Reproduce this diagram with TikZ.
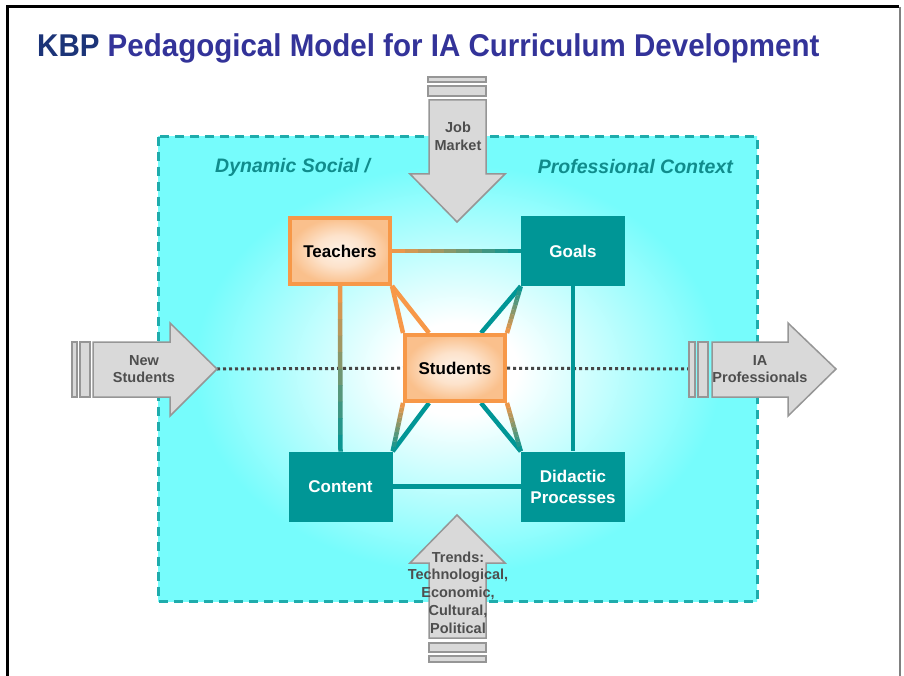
\documentclass[tikz,border=0pt]{standalone}
\usepackage{fontspec}
\setmainfont{Liberation Sans}
\usetikzlibrary{calc}
\definecolor{kbpnavy}{RGB}{28,52,120}
\definecolor{titleblue}{RGB}{51,51,153}
\definecolor{goalteal}{RGB}{0,150,150}
\definecolor{tealdash}{RGB}{30,172,172}
\definecolor{tealtext}{RGB}{16,140,140}
\definecolor{bgcyan}{RGB}{118,252,252}
\definecolor{orangeline}{RGB}{247,152,72}
\definecolor{orangefill}{RGB}{250,192,140}
\definecolor{arrowgray}{RGB}{217,217,217}
\definecolor{arrowedge}{RGB}{150,150,150}
\definecolor{arrowtext}{RGB}{78,78,78}
\definecolor{dotgray}{RGB}{70,70,70}

\pgfdeclareradialshading{context}{\pgfpoint{0bp}{0bp}}{color(0bp)=(white); color(5bp)=(white); color(22bp)=(bgcyan); color(50bp)=(bgcyan)}
\pgfdeclareradialshading{warm}{\pgfpoint{0bp}{0bp}}{color(0bp)=(white!80!orangefill); color(12bp)=(white!55!orangefill); color(25bp)=(orangefill); color(50bp)=(orangefill)}

\pgfdeclarelayer{back}
\pgfdeclarelayer{links}
\pgfsetlayers{back,links,main}

% a connector that fades from one colour into another
\newcommand{\gradlink}[4]{%
  \foreach \k [evaluate=\k as \share using int(95-10*\k)] in {0,...,9}
    \draw[link, color=#3!\share!#4] ($(#1)!\k/10!(#2)$) -- ($(#1)!\k/10+0.102!(#2)$);}

\tikzset{
  x=1pt, y=-1pt,
  rolebox/.style={draw=orangeline, line width=4pt, shade, shading=warm, minimum width=100pt, minimum height=66pt, inner sep=0pt, text=black, font=\fontsize{17}{21}\selectfont\bfseries, align=center}, % orange people boxes
  corebox/.style={fill=goalteal, minimum width=104pt, minimum height=70pt, inner sep=0pt, text=white, font=\fontsize{17}{21}\selectfont\bfseries, align=center}, % teal boxes
  link/.style={line width=4.5pt},
  dotline/.style={draw=dotgray, line width=3pt, dash pattern=on 3pt off 3pt},
  inflow/.style={draw=arrowedge, fill=arrowgray, line width=1.5pt},
  flowtext/.style={text=arrowtext, font=\fontsize{14.5}{17.8}\selectfont\bfseries, align=center, inner sep=0pt},
  contexttext/.style={text=tealtext, font=\fontsize{19.5}{22}\selectfont\bfseries\itshape, inner sep=0pt},
}

\begin{document}
\begin{tikzpicture}
  \useasboundingbox (0,0) rectangle (904,676);

  % slide frame
  \draw[line width=3pt] (7,676) -- (7,7) -- (899,7);
  \draw[gray, line width=1.5pt] (900,7) -- (900,676);

  \node[anchor=base west, inner sep=0pt, font=\fontsize{31.5}{36}\selectfont\bfseries] (title) at (37,57)
    {\scalebox{0.937}[1]{\textcolor{kbpnavy}{KBP} \textcolor{titleblue}{Pedagogical Model for IA Curriculum Development}}};

  % context area
  \begin{pgfonlayer}{back}
    \shade[shading=context] (158,137) rectangle (757,601);
    \draw[tealdash, line width=3pt, dash pattern=on 9pt off 6pt] (158,137) rectangle (757,601);
  \end{pgfonlayer}
  \node[contexttext, anchor=west] (dynamic) at (215,167) {Dynamic Social /};
  \node[contexttext, anchor=east] (professional) at (733,167) {Professional Context};

  % boxes
  \node[rolebox] (teachers) at (340,251) {Teachers};
  \node[corebox] (goals) at (573,251) {Goals};
  \node[rolebox] (students) at (455,368) {Students};
  \node[corebox] (content) at (340.5,486.5) {Content};
  \node[corebox] (didactic) at (573,486.5) {Didactic\\Processes};

  % job market (in)
  \draw[inflow] (428,77) rectangle (486,82);
  \draw[inflow] (428,86) rectangle (486,96);
  \draw[inflow] (429,100) -- (486,100) -- (486,174) -- (505,174) -- (457,222) -- (410,174) -- (429,174) -- cycle;
  \node[flowtext] (job) at (458,136) {Job\\Market};

  % trends (in)
  \draw[inflow] (457,515) -- (505,563) -- (486,563) -- (486,638) -- (429,638) -- (429,563) -- (410,563) -- cycle;
  \draw[inflow] (429,643) rectangle (486,652);
  \draw[inflow] (429,656) rectangle (486,662);
  \node[flowtext] (trends) at (458,592.5) {Trends:\\Technological,\\Economic,\\Cultural,\\Political};

  % new students (in)
  \draw[inflow] (72,342) rectangle (77,397);
  \draw[inflow] (80,342) rectangle (90,397);
  \draw[inflow] (93,342) -- (170,342) -- (170,323) -- (217,369) -- (170,416) -- (170,397) -- (93,397) -- cycle;
  \coordinate (nsTip) at (217,369);
  \node[flowtext] (newstud) at (144,369) {New\\Students};

  % IA professionals (out)
  \draw[inflow] (689,342) rectangle (695,397);
  \draw[inflow] (698,342) rectangle (708,397);
  \draw[inflow] (712,342) -- (788,342) -- (788,323) -- (836,369) -- (788,416) -- (788,397) -- (712,397) -- cycle;
  \coordinate (iaTail) at (689,369);
  \node[flowtext] (iaprof) at (760,369) {IA\\Professionals};

  % connectors
  \begin{pgfonlayer}{links}
    \draw[dotline] (nsTip) -- (students);
    \draw[dotline] (students) -- (iaTail);
    \gradlink{teachers.east}{goals.west}{orangeline}{goalteal}
    \gradlink{teachers.south}{content.north}{orangeline}{goalteal}
    \draw[link, goalteal] (goals.south) -- (didactic.north);
    \draw[link, goalteal] (content.east) -- (didactic.west);
    \draw[link, orangeline] (teachers.south east) -- (students.north west);
    \draw[link, orangeline] (teachers.south east) -- ($(students.north west)!0.25!(students.north east)$);
    \draw[link, goalteal] (goals.south west) -- ($(students.north east)!0.25!(students.north west)$);
    \gradlink{goals.south west}{students.north east}{goalteal}{orangeline}
    \draw[link, goalteal] (content.north east) -- ($(students.south west)!0.25!(students.south east)$);
    \gradlink{content.north east}{students.south west}{goalteal}{orangeline}
    \draw[link, goalteal] (didactic.north west) -- ($(students.south east)!0.25!(students.south west)$);
    \gradlink{didactic.north west}{students.south east}{goalteal}{orangeline}
  \end{pgfonlayer}
\end{tikzpicture}
\end{document}
